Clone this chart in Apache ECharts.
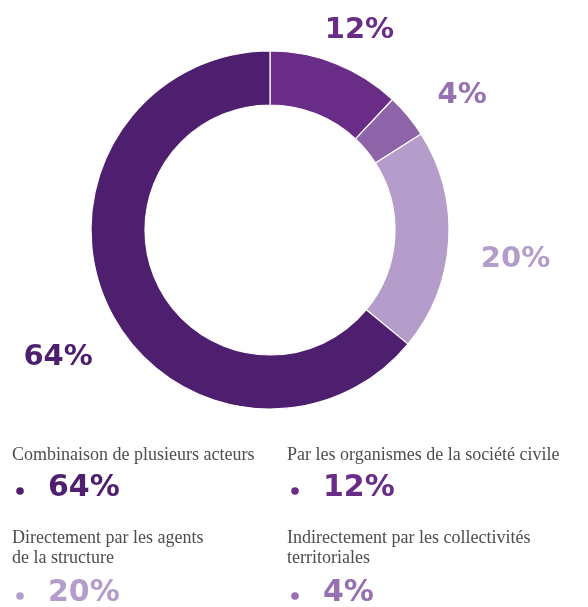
<!DOCTYPE html>
<html>
<head>
<meta charset="utf-8">
<script src="https://cdn.jsdelivr.net/npm/echarts@6/dist/echarts.min.js"></script>
<style>
  html, body { margin: 0; padding: 0; background: #fff; }
  #chart { width: 588px; height: 607px; }
</style>
</head>
<body>
<div id="chart"></div>
<script>
// Répartition (en %) — ordre horaire depuis midi
const categories = [
  'Par les organismes de la société civile',
  'Indirectement par les collectivités territoriales',
  'Directement par les agents de la structure',
  'Combinaison de plusieurs acteurs'
];
const values = [12, 4, 20, 64];

// Libellés de légende découpés en lignes
const legendLines = [
  ['Par les organismes de la société civile'],
  ['Indirectement par les collectivités', 'territoriales'],
  ['Directement par les agents', 'de la structure'],
  ['Combinaison de plusieurs acteurs']
];

const colors = ['#6a2d87', '#8e64a8', '#b49dca', '#4f1f6f'];
const labelColors = ['#6a2d87', '#9670b0', '#b49dca', '#4f1f6f'];

// small nudges for the outer percentage labels
const labelNudge = [[-6, 8], [-1, 2], [-3, -4], [2, 6]];

const pctFont = '"DejaVu Sans", sans-serif';
const serifFont = '"Liberation Serif", "DejaVu Serif", serif';

// Legend grid: [column, row] for each category
const legendSlots = [[1, 0], [1, 1], [0, 1], [0, 0]];
const colX = [12, 287];
const bulletX = [20, 295];
const pctX = [48, 323];
const titleTops = [[446], [529, 549]];
const pctY = [488, 593];

const chart = echarts.init(document.getElementById('chart'), null, { renderer: 'canvas' });

const graphics = [];
categories.forEach((name, i) => {
  const [c, r] = legendSlots[i];
  legendLines[i].forEach((line, k) => {
    graphics.push({
      type: 'text',
      x: colX[c],
      y: titleTops[r][k],
      style: {
        text: line, font: '18px ' + serifFont, fill: '#4d4d4d',
        textVerticalAlign: 'top'
      }
    });
  });
  graphics.push({
    type: 'circle',
    shape: { cx: bulletX[c], cy: pctY[r] + 3, r: 3.8 },
    style: { fill: labelColors[i] }
  });
  graphics.push({
    type: 'text',
    x: pctX[c],
    y: pctY[r],
    style: {
      text: values[i] + '%',
      font: 'bold 30px ' + pctFont,
      fill: labelColors[i],
      textVerticalAlign: 'middle'
    }
  });
});

chart.setOption({
  animation: false,
  graphic: graphics,
  series: [
    {
      type: 'pie',
      center: [270, 230],
      radius: [125, 179],
      startAngle: 90,
      clockwise: true,
      silent: true,
      label: { show: false },
      labelLine: { show: false },
      itemStyle: { borderColor: '#ffffff', borderWidth: 1.2 },
      data: categories.map((name, i) => ({
        name, value: values[i], itemStyle: { color: colors[i] }
      }))
    },
    {
      // invisible ring carrying the percentage labels around the donut
      type: 'pie',
      center: [276, 248],
      radius: [213, 267],
      startAngle: 90,
      clockwise: true,
      silent: true,
      labelLine: { show: false },
      itemStyle: { color: 'rgba(0,0,0,0)' },
      data: categories.map((name, i) => ({
        name, value: values[i],
        label: {
          show: true,
          position: 'inside',
          formatter: '{c}%',
          offset: labelNudge[i],
          color: labelColors[i],
          fontFamily: pctFont,
          fontWeight: 'bold',
          fontSize: 29
        }
      }))
    }
  ]
});
</script>
</body>
</html>
